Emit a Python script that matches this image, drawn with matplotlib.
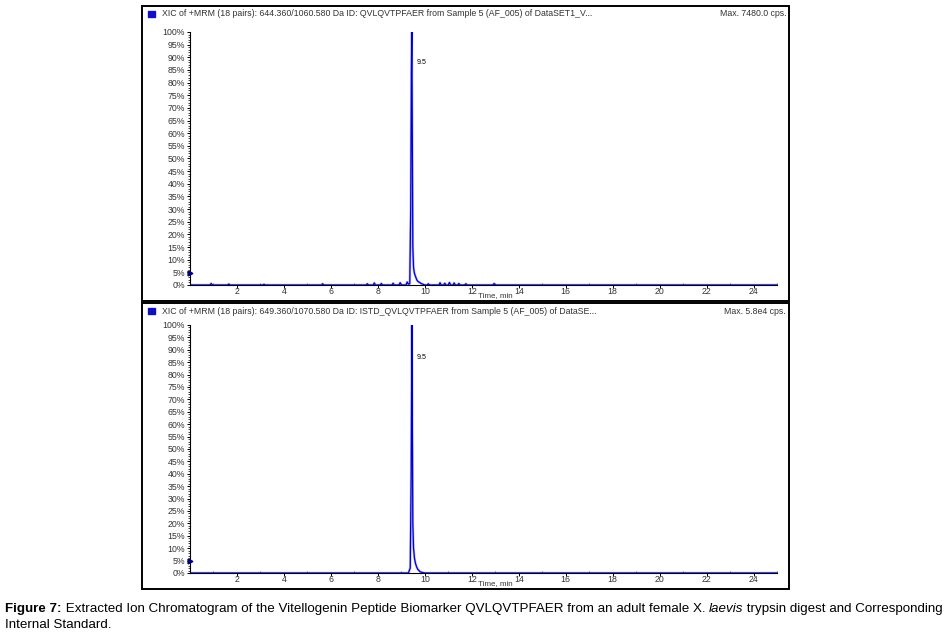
import matplotlib
matplotlib.use("Agg")
import matplotlib.pyplot as plt
from matplotlib.patches import Rectangle
from matplotlib.ticker import MultipleLocator, FuncFormatter

# top trace: analyte XIC (relative intensity, %)
top_time = [0.0,
            0.85, 0.9, 0.95, 1.6, 1.65, 1.7, 3.1, 3.15, 3.2, 5.6, 5.65, 5.7,
            7.5, 7.55, 7.6, 7.8, 7.85, 7.9, 8.1, 8.15, 8.2, 8.6, 8.65, 8.7,
            8.9, 8.95, 9.0, 9.2, 9.25, 9.3,
            9.36, 9.4, 9.43, 9.45, 9.47, 9.49, 9.52, 9.55, 9.58, 9.62, 9.66,
            9.7, 9.74, 9.78, 9.84, 9.9, 9.95, 10.0,
            10.1, 10.15, 10.2, 10.6, 10.65, 10.7, 10.8, 10.85, 10.9,
            11.0, 11.05, 11.1, 11.2, 11.25, 11.3, 11.4, 11.45, 11.5,
            11.7, 11.75, 11.8, 12.9, 12.95, 13.0,
            25.0]
top_int = [0.0,
           0, 0.6, 0, 0, 0.4, 0, 0, 0.3, 0, 0, 0.5, 0,
           0, 0.5, 0, 0, 0.8, 0, 0, 0.6, 0, 0, 0.7, 0,
           0, 0.9, 0, 0, 1.2, 0.3,
           0.5, 30, 85, 100, 55, 15, 7, 5, 4, 3, 2,
           1.5, 1.2, 1.0, 0.6, 0.4, 0.2, 0,
           0, 0.5, 0, 0, 0.9, 0, 0, 0.7, 0,
           0, 1.0, 0, 0, 0.8, 0, 0, 0.6, 0,
           0, 0.5, 0, 0, 0.6, 0,
           0]

# bottom trace: internal standard XIC
bot_time = [0.0, 9.3, 9.38, 9.42, 9.45, 9.47, 9.49, 9.52, 9.56, 9.6, 9.65,
            9.7, 9.75, 9.8, 9.9, 10.0, 25.0]
bot_int = [0, 0, 2, 40, 100, 60, 20, 10, 6, 4, 2.5, 1.5, 1.0, 0.5, 0.2, 0, 0]

titles = ["XIC of +MRM (18 pairs): 644.360/1060.580 Da ID: QVLQVTPFAER from Sample 5 (AF_005) of DataSET1_V...",
          "XIC of +MRM (18 pairs): 649.360/1070.580 Da ID: ISTD_QVLQVTPFAER from Sample 5 (AF_005) of DataSE..."]
max_labels = ["Max. 7480.0 cps.", "Max. 5.8e4 cps."]
peak_rt = 9.5

W, H = 950, 637
fig = plt.figure(figsize=(W / 100, H / 100), dpi=100)
plt.rcParams['font.family'] = ['Liberation Sans', 'DejaVu Sans']

txt_col = '#333333'
trace_col = '#0000cc'


def fx(px):
    return px / W


def fy(py):
    return 1 - py / H


panels = [
    # box (x0, y0, x1, y1) in px, axes 0% / 100% pixel rows
    dict(box=(142, 6, 789, 301), y0=285, y100=32, t=top_time, v=top_int, lab_y=88),
    dict(box=(142, 303, 789, 589), y0=573, y100=325, t=bot_time, v=bot_int, lab_y=87),
]

for i, p in enumerate(panels):
    x0, y0, x1, y1 = p['box']
    fig.patches.append(Rectangle((fx(x0), fy(y1)), fx(x1 - x0), (y1 - y0) / H,
                                 transform=fig.transFigure, fill=False,
                                 edgecolor='black', linewidth=1.4))
    # header
    fig.patches.append(Rectangle((fx(148), fy(y0 + 11)), fx(7), 6 / H,
                                 transform=fig.transFigure, color='#1010c0'))
    fig.text(fx(162), fy(y0 + 8), titles[i], fontsize=6.3, color=txt_col,
             va='center', ha='left')
    fig.text(fx(786), fy(y0 + 8), max_labels[i], fontsize=6.3, color=txt_col,
             va='center', ha='right')

    ax_h = p['y0'] - p['y100']
    ax = fig.add_axes([fx(190), fy(p['y0']), fx(777 - 190), ax_h / H])
    ax.plot(p['t'], p['v'], color='#8c8cff', linewidth=1.8, alpha=0.6, zorder=2)
    ax.plot(p['t'], p['v'], color=trace_col, linewidth=0.9, zorder=3)
    ax.set_xlim(0, 25)
    ax.set_ylim(0, 100)
    ax.patch.set_alpha(0)
    for s in ['top', 'right']:
        ax.spines[s].set_visible(False)
    ax.spines['left'].set_linewidth(0.8)
    ax.spines['bottom'].set_linewidth(0.8)

    ax.xaxis.set_minor_locator(MultipleLocator(1))
    ax.set_xticks([t for t in range(2, 25, 2)])
    ax.yaxis.set_major_locator(MultipleLocator(5))
    ax.yaxis.set_minor_locator(MultipleLocator(1))
    ax.yaxis.set_major_formatter(FuncFormatter(lambda v, pos: f"{int(round(v))}%"))
    ax.tick_params(axis='both', which='major', labelsize=6.3, labelcolor=txt_col,
                   length=2.5, width=0.7, pad=1)
    ax.tick_params(axis='x', which='major', length=2, pad=-0.5)
    ax.tick_params(axis='both', which='minor', length=1.5, width=0.5)
    ax.tick_params(axis='x', which='minor', direction='in')
    ax.set_xlabel("Time, min", fontsize=5.8, color=txt_col)
    ax.xaxis.set_label_coords(0.5205, -7.5 / ax_h)

    ax.plot([0], [4.7], marker='>', markersize=3.5, color='#000080',
            clip_on=False, zorder=5)
    ax.text(peak_rt + 0.15, p['lab_y'], f"{peak_rt:.1f}", fontsize=5, color='black',
            ha='left', va='center')

# caption with mixed styles
pieces = [("Figure 7:", 'bold', 'normal'),
          (" Extracted Ion Chromatogram of the Vitellogenin Peptide Biomarker QVLQVTPFAER from an adult female X. ", 'normal', 'normal'),
          ("laevis", 'normal', 'italic'),
          (" trypsin digest and Corresponding", 'normal', 'normal')]
fig.canvas.draw()
renderer = fig.canvas.get_renderer()
xpos = fx(5)
cap_size = 9.65
cap_family = ['Liberation Sans', 'DejaVu Sans']
for txt, wgt, sty in pieces:
    t = fig.text(xpos, fy(609), txt, fontsize=cap_size, fontweight=wgt,
                 fontstyle=sty, family=cap_family, va='center', ha='left')
    bb = t.get_window_extent(renderer)
    xpos += bb.width / W
fig.text(fx(5), fy(625), "Internal Standard.", fontsize=cap_size,
         family=cap_family, va='center', ha='left')

fig.savefig("out.png", dpi=100)
